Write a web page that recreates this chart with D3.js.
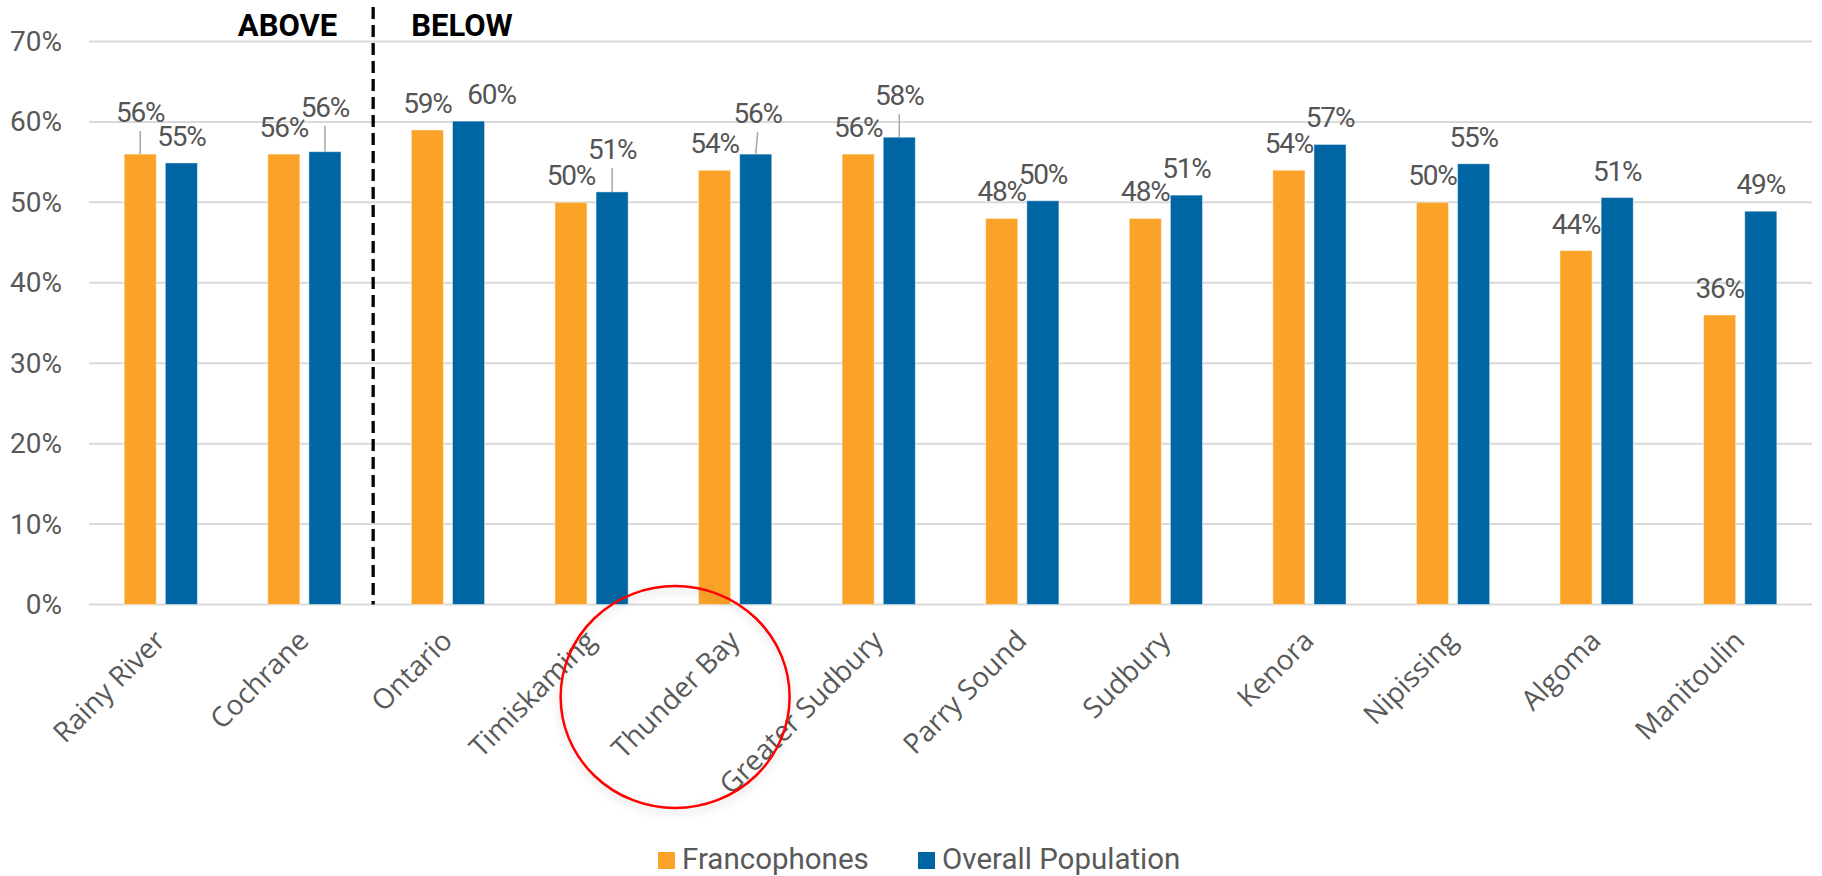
<!DOCTYPE html>
<html>
<head>
<meta charset="utf-8">
<script src="https://cdn.jsdelivr.net/npm/d3@7"></script>
<style>
  body { margin: 0; background: #fff; }
  text { font-family: Roboto, "Open Sans", sans-serif; }
</style>
</head>
<body>
<script>
// chart data (percent)
var regions = ["Rainy River", "Cochrane", "Ontario", "Timiskaming", "Thunder Bay", "Greater Sudbury",
               "Parry Sound", "Sudbury", "Kenora", "Nipissing", "Algoma", "Manitoulin"];
var francophones = [56.0, 56.0, 59.0, 50.0, 54.0, 56.0, 48.0, 48.0, 54.0, 50.0, 44.0, 36.0];
var overall      = [54.9, 56.3, 60.1, 51.3, 56.0, 58.1, 50.2, 50.9, 57.2, 54.8, 50.6, 48.9];
var seriesNames = ["Francophones", "Overall Population"];
var seriesColors = ["#FBA328", "#0066A3"];
var yTicks = [0, 10, 20, 30, 40, 50, 60, 70];
var groupLabels = ["ABOVE", "BELOW"];

// labels that were dragged off their default place: [dx, dy, leader line]
var labelMoves = {
  "Rainy River|0": [0, -15, true],
  "Cochrane|1": [0, -18, true],
  "Ontario|1": [23, 0, false],
  "Timiskaming|1": [0, -16, true],
  "Thunder Bay|1": [2, -14, true],
  "Greater Sudbury|1": [0, -15, true]
};

var W = 1822, H = 876;
var plotL = 89, plotR = 1812, plotT = 41.5, plotB = 604.5;

var svg = d3.select("body").append("svg")
    .attr("width", W)
    .attr("height", H);

var x0 = d3.scaleBand()
    .domain(regions)
    .range([plotL, plotR])
    .paddingInner(0.49)
    .paddingOuter(0.245);

var x1 = d3.scaleBand()
    .domain([0, 1])
    .range([0, x0.bandwidth()])
    .paddingInner(0.22);

var y = d3.scaleLinear()
    .domain([0, 70])
    .range([plotB, plotT]);

// gridlines
svg.append("g").selectAll("line")
    .data(yTicks)
  .enter().append("line")
    .attr("x1", plotL)
    .attr("x2", plotR)
    .attr("y1", function(d) { return y(d); })
    .attr("y2", function(d) { return y(d); })
    .attr("stroke", "#D9D9D9")
    .attr("stroke-width", 2);

// y axis labels
var yAxis = svg.append("g")
    .attr("transform", "translate(" + plotL + ",0)")
    .call(d3.axisLeft(y).tickValues(yTicks).tickSize(0).tickPadding(27)
      .tickFormat(function(d) { return d + "%"; }));
yAxis.select(".domain").remove();
yAxis.selectAll("text")
    .style("font-family", "Roboto, sans-serif")
    .style("font-size", "28px")
    .attr("fill", "#595959");

// rows for bars
var rows = [];
regions.forEach(function(r, i) {
  rows.push({region: r, s: 0, v: francophones[i]});
  rows.push({region: r, s: 1, v: overall[i]});
});

svg.append("g").selectAll("rect")
    .data(rows)
  .enter().append("rect")
    .attr("x", function(d) { return x0(d.region) + x1(d.s); })
    .attr("y", function(d) { return y(d.v); })
    .attr("width", x1.bandwidth())
    .attr("height", function(d) { return plotB - y(d.v); })
    .attr("fill", function(d) { return seriesColors[d.s]; })
    .attr("stroke", "rgba(255,255,255,0.45)")
    .attr("stroke-width", 1);

// data labels
var fmt = d3.format(".0%");
var lab = svg.append("g");
rows.forEach(function(d) {
  var bx = x0(d.region) + x1(d.s) + x1.bandwidth() / 2;
  var by = y(d.v);
  var mv = labelMoves[d.region + "|" + d.s] || [0, 0, false];
  var lx = bx + mv[0];
  var ly = by - 27 + mv[1];
  if (mv[2]) {
    lab.append("line")
        .attr("x1", lx).attr("y1", ly + 19)
        .attr("x2", bx).attr("y2", by)
        .attr("stroke", "#A6A6A6")
        .attr("stroke-width", 1.5);
  }
  lab.append("text")
      .attr("x", lx)
      .attr("y", ly + 10)
      .attr("text-anchor", "middle")
      .style("font-size", "28px")
      .style("letter-spacing", "-1.2px")
      .attr("fill", "#555555")
      .text(fmt(d.v / 100));
});

// category labels
svg.append("g").selectAll("text")
    .data(regions)
  .enter().append("text")
    .attr("transform", function(d) {
      return "translate(" + (x0(d) + x0.bandwidth() / 2 + 6) + "," + (plotB + 38) + ") rotate(-45)";
    })
    .attr("text-anchor", "end")
    .style("font-family", "'Open Sans', sans-serif")
    .style("font-size", "28px")
    .attr("fill", "#595959")
    .text(function(d) { return d; });

// divider between ABOVE and BELOW
var divX = x0("Ontario") - x0.step() * x0.paddingInner() / 2 - 3;
svg.append("line")
    .attr("x1", divX).attr("x2", divX)
    .attr("y1", 7).attr("y2", plotB)
    .attr("stroke", "#000")
    .attr("stroke-width", 3.3)
    .attr("stroke-dasharray", "12,6");

svg.append("text")
    .attr("x", divX - 36)
    .attr("y", 36)
    .attr("text-anchor", "end")
    .style("font-size", "31px")
    .style("font-weight", 700)
    .attr("fill", "#000")
    .text(groupLabels[0]);

svg.append("text")
    .attr("x", divX + 38)
    .attr("y", 36)
    .attr("text-anchor", "start")
    .style("font-size", "31px")
    .style("font-weight", 700)
    .attr("fill", "#000")
    .text(groupLabels[1]);

// red highlight circle round Thunder Bay
var defs = svg.append("defs");
var f = defs.append("filter").attr("id", "shadow").attr("x", "-20%").attr("y", "-20%").attr("width", "140%").attr("height", "140%");
f.append("feDropShadow").attr("dx", 0).attr("dy", 4).attr("stdDeviation", 4).attr("flood-color", "#000").attr("flood-opacity", 0.18);
svg.append("ellipse")
    .attr("cx", x0("Thunder Bay") + x0.bandwidth() / 2 - 60)
    .attr("cy", 697)
    .attr("rx", 114.5)
    .attr("ry", 111)
    .attr("fill", "none")
    .attr("stroke", "#FF0000")
    .attr("stroke-width", 2.5)
    .attr("filter", "url(#shadow)");

// legend
var legendX = [658, 918];
var lg = svg.append("g");
seriesNames.forEach(function(name, i) {
  lg.append("rect")
      .attr("x", legendX[i]).attr("y", 852)
      .attr("width", 17).attr("height", 17)
      .attr("fill", seriesColors[i]);
  lg.append("text")
      .attr("x", legendX[i] + 24)
      .attr("y", 869)
      .style("font-size", "29.5px")
      .attr("fill", "#595959")
      .text(name);
});
</script>
</body>
</html>
